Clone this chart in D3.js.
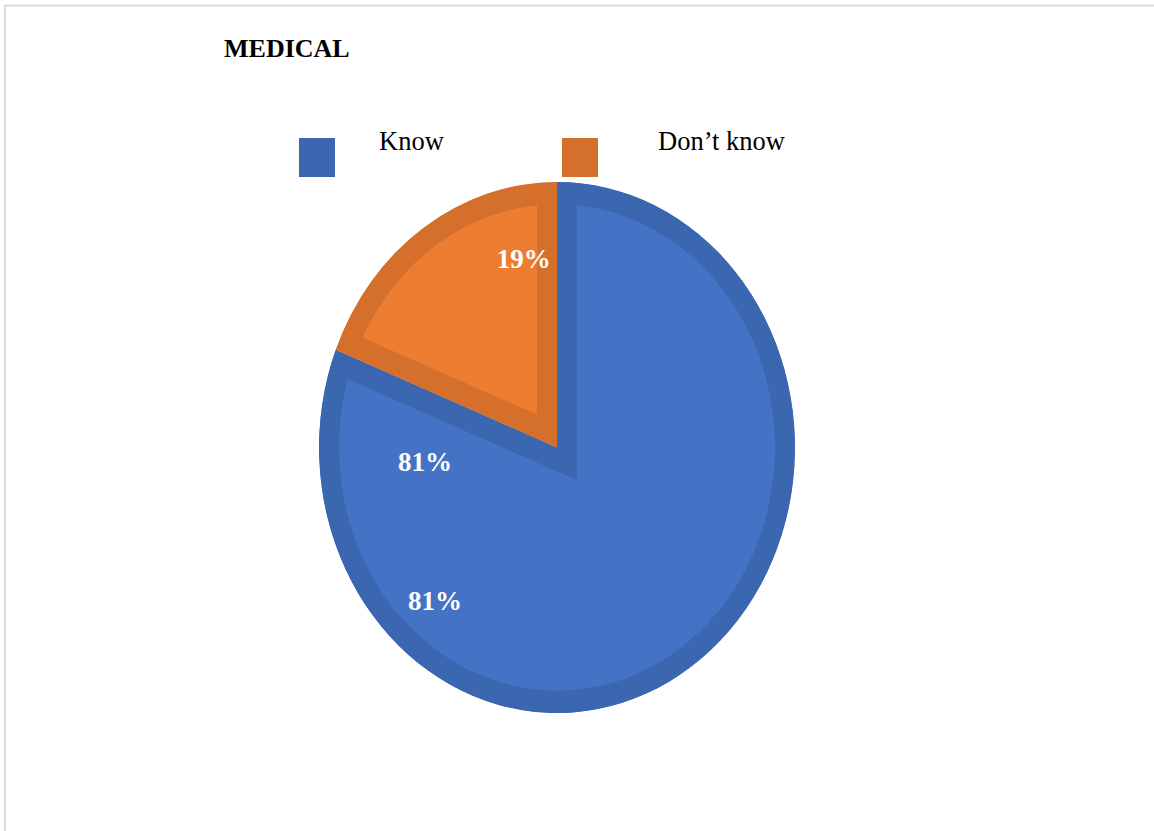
<!DOCTYPE html>
<html>
<head>
<meta charset="utf-8">
<script src="https://cdn.jsdelivr.net/npm/d3@7"></script>
<style>
  body { margin: 0; background: #ffffff; }
  svg { display: block; }
</style>
</head>
<body>
<svg id="chart" width="1154" height="831"></svg>
<script>
// Survey answers for the medical group
const categories = ["Know", "Don\u2019t know"];
const values = [81, 19];
const fillColors = ["#4472c4", "#ed7d31"];
const edgeColors = ["#3b66b0", "#d5702c"];

// Which slice each percentage label belongs to (the "Know" share is labelled twice)
const labelSlices = [1, 0, 0];

const svg = d3.select("#chart");

// Frame lines along the top and left edges
svg.append("path")
  .attr("d", "M5,831 V5.5 H1154")
  .attr("fill", "none")
  .attr("stroke", "#d9d9d9")
  .attr("stroke-width", 2);

// Title
svg.append("text")
  .attr("x", 224)
  .attr("y", 57)
  .attr("font-family", "'Liberation Serif', 'Times New Roman', serif")
  .attr("font-weight", "bold")
  .attr("font-size", 26)
  .attr("fill", "#000")
  .text("MEDICAL");

// Legend: colour keys and their captions
const keyX = d3.scalePoint().domain(categories).range([299, 562]);
const captionX = d3.scalePoint().domain(categories).range([379, 658]);
const legend = svg.append("g");
legend.selectAll("rect")
  .data(categories)
  .join("rect")
  .attr("x", d => keyX(d))
  .attr("y", 138)
  .attr("width", 36)
  .attr("height", 39)
  .attr("fill", (d, i) => edgeColors[i]);
legend.selectAll("text")
  .data(categories)
  .join("text")
  .attr("x", d => captionX(d))
  .attr("y", 150)
  .attr("font-family", "'Liberation Serif', 'Times New Roman', serif")
  .attr("font-size", 26.5)
  .attr("fill", "#000")
  .text(d => d);

// Pie: drawn as a circle, then stretched vertically into an ellipse
const cx = 557, cy = 447.5;
const radius = 238;
const stretchY = 265.5 / 238;
const band = 20;

const pie = d3.pie().sort(null).value(d => d);
const arcs = pie(values);
const arc = d3.arc().innerRadius(0).outerRadius(radius);

const pieG = svg.append("g")
  .attr("transform", `translate(${cx},${cy}) scale(1,${stretchY})`);

const defs = svg.append("defs");
arcs.forEach((a, i) => {
  defs.append("clipPath")
    .attr("id", "slice-clip-" + i)
    .append("path")
    .attr("d", arc(a));
});

pieG.selectAll("path.slice")
  .data(arcs)
  .join("path")
  .attr("class", "slice")
  .attr("d", arc)
  .attr("fill", (d, i) => fillColors[i])
  .attr("stroke", (d, i) => edgeColors[i])
  .attr("stroke-width", band * 2)
  .attr("stroke-linejoin", "miter")
  .attr("clip-path", (d, i) => `url(#slice-clip-${i})`);

// Label anchors inside the slices: angle (degrees clockwise from 12 o'clock), radius fraction
const labelSpots = [
  { angle: 348.9, r: 0.724 },
  { angle: 264.5, r: 0.557 },
  { angle: 221.7, r: 0.77 }
];

svg.append("g").selectAll("text")
  .data(labelSlices)
  .join("text")
  .attr("x", (s, i) => cx + Math.sin(labelSpots[i].angle * Math.PI / 180) * labelSpots[i].r * radius)
  .attr("y", (s, i) => cy - Math.cos(labelSpots[i].angle * Math.PI / 180) * labelSpots[i].r * radius * stretchY)
  .attr("dy", "0.35em")
  .attr("text-anchor", "middle")
  .attr("font-family", "'Liberation Serif', 'Times New Roman', serif")
  .attr("font-weight", "bold")
  .attr("font-size", 27)
  .attr("fill", "#ffffff")
  .text(s => values[s] + "%");
</script>
</body>
</html>
